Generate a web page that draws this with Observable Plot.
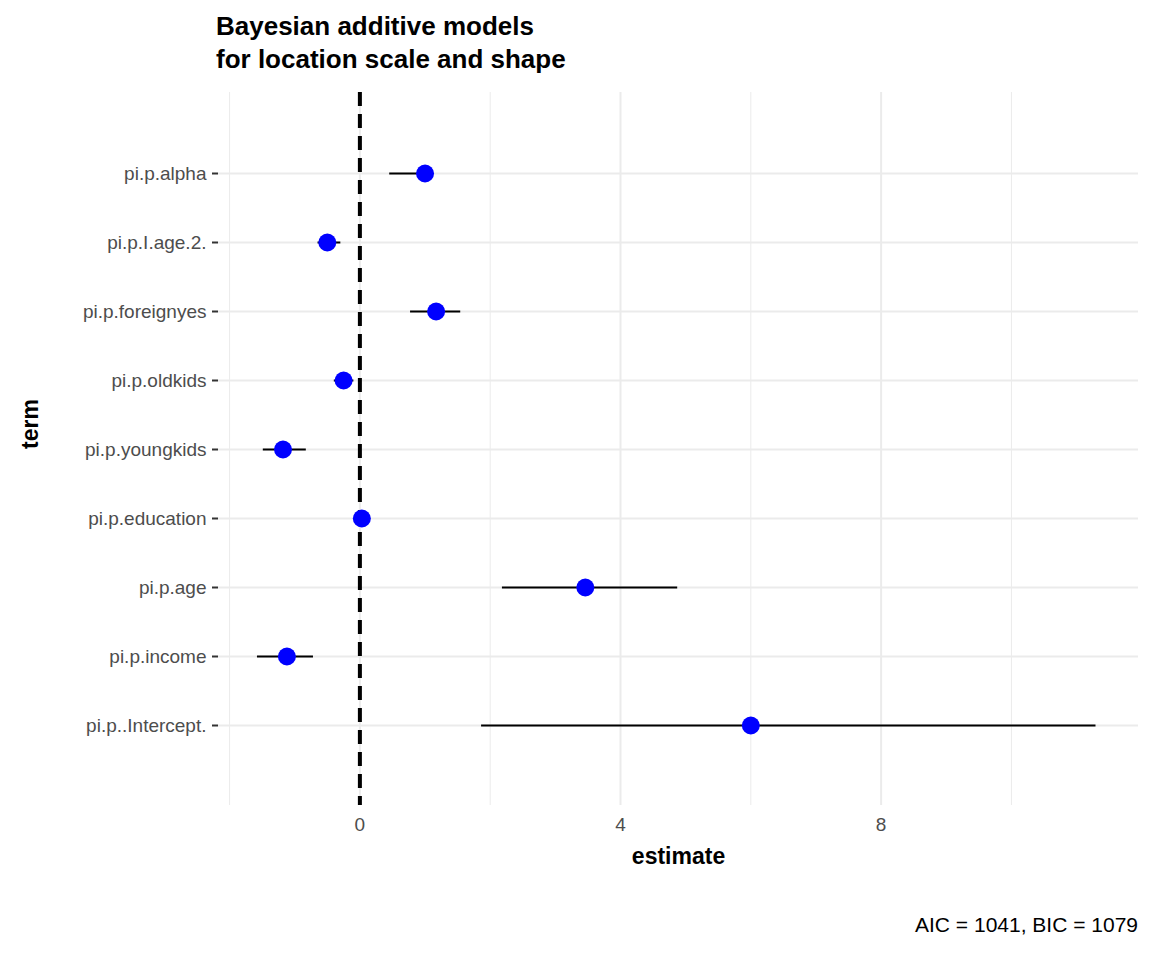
<!DOCTYPE html>
<html><head><meta charset="utf-8">
<script src="https://cdn.jsdelivr.net/npm/d3@7"></script>
<script src="https://cdn.jsdelivr.net/npm/@observablehq/plot@0.6"></script>
<style>
body{margin:0;background:#fff;font-family:"Liberation Sans",Arial,sans-serif;width:1152px;height:960px;position:relative;overflow:hidden}
#title{position:absolute;left:216px;top:10px;font-size:26px;font-weight:bold;line-height:33px;color:#000}
#plot{position:absolute;left:0;top:88px}
#cap{position:absolute;right:14px;top:913px;font-size:21px;color:#000}
</style></head><body>
<div id="title">Bayesian additive models<br>for location scale and shape</div>
<div id="plot"></div>
<div id="cap">AIC = 1041, BIC = 1079</div>
<script>
const terms = ["pi.p.alpha","pi.p.I.age.2.","pi.p.foreignyes","pi.p.oldkids","pi.p.youngkids","pi.p.education","pi.p.age","pi.p.income","pi.p..Intercept."];
const estimates = [1.0,-0.5,1.17,-0.25,-1.18,0.03,3.46,-1.12,6.0];
const lower = [0.45,-0.65,0.77,-0.4,-1.49,0.0,2.18,-1.58,1.86];
const upper = [1.05,-0.3,1.54,-0.1,-0.83,0.06,4.87,-0.72,11.29];
const majorTicks = [0,4,8];
const minorTicks = [-2,2,6,10];
const data = terms.map((t,i)=>({term:t,est:estimates[i],lo:lower[i],hi:upper[i]}));
const chart = Plot.plot({
  width:1152, height:800, marginLeft:218, marginRight:14, marginTop:4, marginBottom:83,
  style:{fontFamily:"'Liberation Sans', Arial, sans-serif", fontSize:"19px", background:"white"},
  x:{domain:[-2.17,11.95]},
  y:{domain:terms, insetTop:46, insetBottom:45},
  marks:[
    Plot.ruleX(minorTicks,{stroke:"#ebebeb",strokeWidth:1}),
    Plot.ruleX(majorTicks,{stroke:"#ebebeb",strokeWidth:2}),
    Plot.ruleY(terms,{y:d=>d,stroke:"#ebebeb",strokeWidth:2}),
    Plot.axisX({ticks:majorTicks,tickSize:0,tickPadding:12,fill:"#4d4d4d",fontSize:19,label:null}),
    Plot.axisY({tickSize:6,stroke:"#333",strokeWidth:2,tickPadding:6,fill:"#4d4d4d",fontSize:19,label:null}),
    Plot.text(["estimate"],{frameAnchor:"bottom",dy:58,text:d=>d,fontSize:23,fontWeight:"bold",fill:"#000"}),
    Plot.text(["term"],{frameAnchor:"left",dx:-188,rotate:-90,text:d=>d,fontSize:23,fontWeight:"bold",fill:"#000"}),
    Plot.ruleX([0],{stroke:"black",strokeWidth:4,strokeDasharray:"14,8"}),
    Plot.link(data,{x1:"lo",x2:"hi",y1:"term",y2:"term",stroke:"black",strokeWidth:2}),
    Plot.dot(data,{x:"est",y:"term",r:9,fill:"blue",stroke:"none"})
  ]
});
document.getElementById("plot").append(chart);
</script></body></html>
